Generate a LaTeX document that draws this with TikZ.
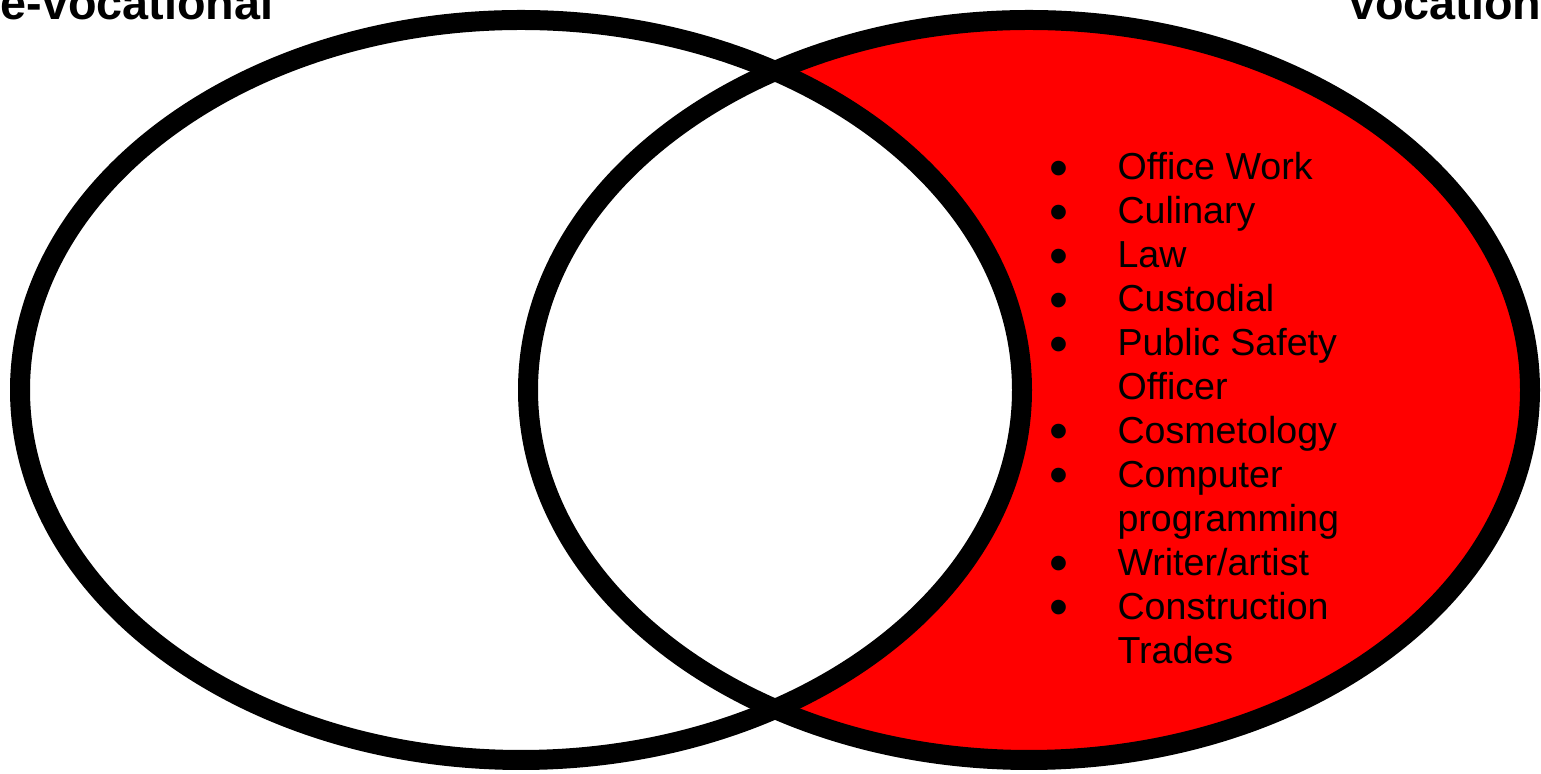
\documentclass[tikz,border=0pt]{standalone}
\usepackage{fontspec}
\setmainfont{Liberation Sans}
\definecolor{vennred}{RGB}{255,0,0}
\tikzset{
    vennline/.style={line width=0.2cm, black},
    setlabel/.style={font=\fontsize{13.3}{15}\selectfont\bfseries, inner sep=0pt},
    listbox/.style={font=\fontsize{10.7}{12.5}\selectfont, inner sep=0pt, anchor=base west}
}
\newcommand{\vdot}{\smash{\raisebox{-1.8pt}{\fontsize{15.4}{12.5}\selectfont\textbullet}}}
\newcommand{\vitem}[1]{\makebox[19.3pt][l]{\vdot} & #1 \\}
\newcommand{\vcont}[1]{ & #1 \\}

\begin{document}
\begin{tikzpicture}
    % Page frame
    \fill[white] (0,0) rectangle (15.41,7.74);
    \useasboundingbox (0,0) rectangle (15.41,7.74);

    % Right-only part (red), then the left set painted over in white
    \fill[vennred] (10.29,3.84) ellipse [x radius=5.01, y radius=3.70];
    \fill[white] (5.21,3.84) ellipse [x radius=5.01, y radius=3.70];

    % Outlines of both sets
    \draw[vennline] (5.21,3.84) ellipse [x radius=5.01, y radius=3.70];
    \draw[vennline] (10.29,3.84) ellipse [x radius=5.01, y radius=3.70];

    % Set names (cut by the page edge)
    \node[setlabel, anchor=base west] (prevoc) at (0,7.54) {e-vocational};
    \node[setlabel, anchor=base east] (voc) at (15.42,7.54) {vocation};

    % Items of the vocational set
    \node[listbox] (voclist) at (10.49,5.94) {%
        \begin{tabular}[t]{@{}l@{}l@{}}
            \vitem{Office Work}
            \vitem{Culinary}
            \vitem{Law}
            \vitem{Custodial}
            \vitem{Public Safety}
            \vcont{Officer}
            \vitem{Cosmetology}
            \vitem{Computer}
            \vcont{programming}
            \vitem{Writer/artist}
            \vitem{Construction}
            \vcont{Trades}
        \end{tabular}};
\end{tikzpicture}
\end{document}
